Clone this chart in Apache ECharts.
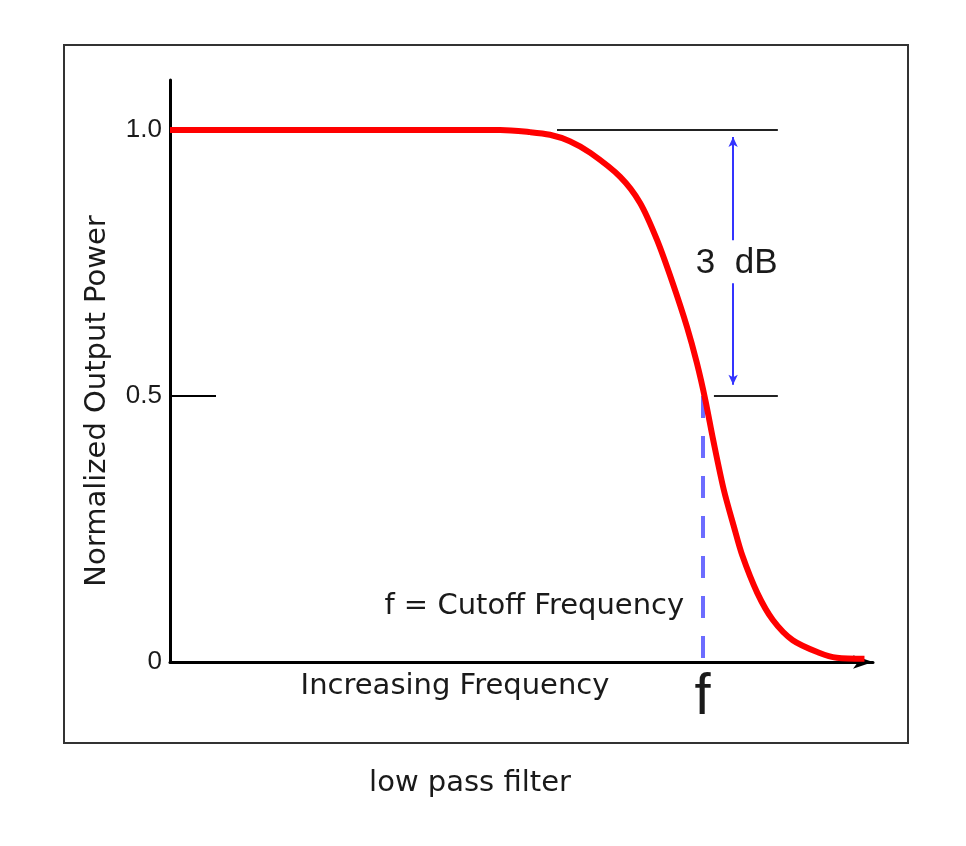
<!DOCTYPE html>
<html>
<head>
<meta charset="utf-8">
<script src="https://cdn.jsdelivr.net/npm/echarts@6/dist/echarts.min.js"></script>
<style>
  html, body { margin: 0; padding: 0; background: #fff; }
  #chart { width: 966px; height: 846px; }
</style>
</head>
<body>
<div id="chart"></div>
<script>
// frequency (arbitrary units, cutoff at 7.5) and normalized output power
const freq = [0, 4.37, 4.65, 5.07, 5.35, 5.63, 5.92, 6.34, 6.62, 6.86, 7.08, 7.28, 7.42, 7.54, 7.65, 7.80, 7.94, 8.06, 8.27, 8.49, 8.77, 9.15, 9.39, 9.78]
const power = [1.0, 1.0, 1.0, 0.996, 0.991, 0.979, 0.957, 0.912, 0.863, 0.793, 0.712, 0.630, 0.562, 0.492, 0.417, 0.323, 0.255, 0.200, 0.130, 0.079, 0.041, 0.017, 0.008, 0.006]

const yTicks = [0, 0.5, 1.0]
const cutoff = 7.5
const refLineEnd = 8.56
const topRefStart = 5.45
const halfRefStart = 7.66
const dbArrowX = 7.93
const dbArrowUpper = [0.793, 0.987]
const dbArrowLower = [0.712, 0.521]

const textColor = '#1a1a1a'
const chart = echarts.init(document.getElementById('chart'))

chart.setOption({
  backgroundColor: '#fff',
  animation: false,
  grid: { left: 170, top: 80, right: 93, bottom: 184 },
  graphic: [
    {
      type: 'rect',
      shape: { x: 64, y: 45, width: 844, height: 698 },
      style: { fill: 'none', stroke: '#333', lineWidth: 2 }
    },
    {
      type: 'text',
      x: 470, y: 783,
      style: {
        text: 'low pass filter',
        font: '29px "DejaVu Sans"',
        fill: textColor,
        textAlign: 'center',
        textVerticalAlign: 'middle'
      }
    }
  ],
  xAxis: {
    type: 'value',
    min: 0,
    max: 9.9,
    name: 'Increasing Frequency',
    nameLocation: 'middle',
    nameGap: 10,
    nameMoveOverlap: false,
    nameTextStyle: { fontFamily: 'DejaVu Sans', fontSize: 29, color: textColor, padding: [0, 133, 0, 0] },
    axisLine: {
      lineStyle: { color: '#000', width: 3 },
      symbol: ['none', 'arrow'],
      symbolSize: [10, 20]
    },
    axisTick: { show: false },
    splitLine: { show: false },
    axisLabel: {
      customValues: [cutoff],
      formatter: () => 'f',
      fontFamily: 'Liberation Sans',
      fontSize: 58,
      color: textColor,
      margin: 7
    }
  },
  yAxis: {
    type: 'value',
    min: 0,
    max: 1.094,
    name: 'Normalized Output Power',
    nameLocation: 'middle',
    nameGap: 58,
    nameTextStyle: { fontFamily: 'DejaVu Sans', fontSize: 29, color: textColor, padding: [0, 60, 0, 0] },
    axisLine: { lineStyle: { color: '#000', width: 3 } },
    axisTick: {
      customValues: yTicks,
      inside: true,
      length: 46,
      lineStyle: { color: '#000', width: 2 }
    },
    splitLine: { show: false },
    axisLabel: {
      customValues: yTicks,
      formatter: v => (v === 0 ? '0' : v.toFixed(1)),
      fontFamily: 'Liberation Sans',
      fontSize: 26,
      color: textColor,
      margin: 8
    }
  },
  series: [
    {
      type: 'line',
      data: freq.map((f, i) => [f, power[i]]),
      smooth: 0.3,
      showSymbol: false,
      lineStyle: { color: '#ff0000', width: 6 },
      z: 5,
      markLine: {
        silent: true,
        symbol: ['none', 'none'],
        label: { show: false },
        data: [
          [
            { coord: [topRefStart, 1.0], lineStyle: { color: '#222', width: 2, type: 'solid' } },
            { coord: [refLineEnd, 1.0] }
          ],
          [
            { coord: [halfRefStart, 0.5], lineStyle: { color: '#222', width: 2, type: 'solid' } },
            { coord: [refLineEnd, 0.5] }
          ],
          [
            { coord: [cutoff, 0.5], lineStyle: { color: '#6c6cff', width: 4, type: [22, 18] } },
            { coord: [cutoff, 0] }
          ],
          [
            { coord: [dbArrowX, dbArrowUpper[0]], lineStyle: { color: '#3434ff', width: 2, type: 'solid' } },
            { coord: [dbArrowX, dbArrowUpper[1]], symbol: 'arrow', symbolSize: [7, 10] }
          ],
          [
            { coord: [dbArrowX, dbArrowLower[0]], lineStyle: { color: '#3434ff', width: 2, type: 'solid' } },
            { coord: [dbArrowX, dbArrowLower[1]], symbol: 'arrow', symbolSize: [7, 10] }
          ]
        ]
      },
      markPoint: {
        silent: true,
        symbol: 'circle',
        symbolSize: 1,
        itemStyle: { color: 'rgba(0,0,0,0)' },
        data: [
          {
            coord: [7.98, 0.75],
            label: { show: true, position: 'inside', formatter: '3  dB', fontFamily: 'Liberation Sans', fontSize: 35, color: textColor }
          },
          {
            coord: [5.13, 0.105],
            label: { show: true, position: 'inside', formatter: 'f = Cutoff Frequency', fontFamily: 'DejaVu Sans', fontSize: 29, color: textColor }
          }
        ]
      }
    }
  ]
})
</script>
</body>
</html>
